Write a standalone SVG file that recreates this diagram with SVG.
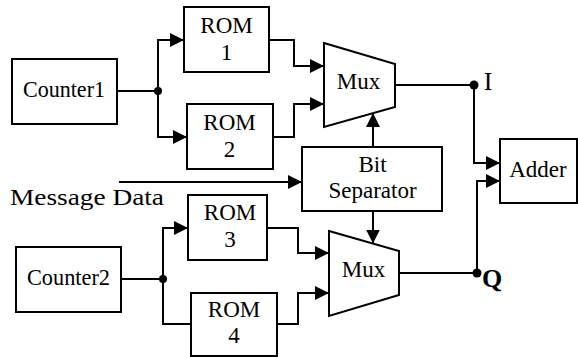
<svg xmlns="http://www.w3.org/2000/svg" width="578" height="357" viewBox="0 0 578 357">
<style>
.box{fill:#fff;stroke:#000;stroke-width:2}
.ln{fill:none;stroke:#000;stroke-width:2}
.t{font-family:"Liberation Serif","Times New Roman",serif;font-size:23px;fill:#000;text-anchor:middle}
</style>
<defs>
<marker id="ah" viewBox="0 0 14 14" refX="14" refY="7" markerWidth="14" markerHeight="14" markerUnits="userSpaceOnUse" orient="auto">
<path d="M0,0 L14,7 L0,14 z" fill="#000"/>
</marker>
</defs>
<rect width="578" height="357" fill="#fff"/>
<g id="connectors">
<path class="ln" d="M117,91 H158"/>
<path class="ln" d="M158,91 V40 H184" marker-end="url(#ah)"/>
<path class="ln" d="M158,91 V137 H187" marker-end="url(#ah)"/>
<path class="ln" d="M269,40 H294 V66 H324" marker-end="url(#ah)"/>
<path class="ln" d="M273,137 H294 V104 H324" marker-end="url(#ah)"/>
<path class="ln" d="M373,147 V113" marker-end="url(#ah)"/>
<path class="ln" d="M395,85 H474"/>
<path class="ln" d="M474,85 V163 H500" marker-end="url(#ah)"/>
<path class="ln" d="M119,182 H302" marker-end="url(#ah)"/>
<path class="ln" d="M121,279 H163"/>
<path class="ln" d="M163,279 V228 H188" marker-end="url(#ah)"/>
<path class="ln" d="M163,279 V324 H191"/>
<path class="ln" d="M267,228 H298 V253 H329" marker-end="url(#ah)"/>
<path class="ln" d="M277,324 H298 V293 H329" marker-end="url(#ah)"/>
<path class="ln" d="M373,211 V243.5" marker-end="url(#ah)"/>
<path class="ln" d="M399,273 H477"/>
<path class="ln" d="M477,273 V181 H500" marker-end="url(#ah)"/>
<circle cx="158" cy="91" r="4"/>
<circle cx="163" cy="279" r="4"/>
<circle cx="474" cy="85" r="4.5"/>
<circle cx="477" cy="273" r="4.5"/>
</g>
<g id="counter1"><rect class="box" x="12" y="59" width="105" height="65"/><text class="t" x="64" y="97" textLength="82" lengthAdjust="spacingAndGlyphs">Counter1</text></g>
<g id="rom1"><rect class="box" x="184" y="7" width="85" height="65"/><text class="t" x="226.5" y="33">ROM</text><text class="t" x="226.5" y="60">1</text></g>
<g id="rom2"><rect class="box" x="187" y="104" width="86" height="65"/><text class="t" x="229.5" y="130">ROM</text><text class="t" x="229.5" y="157">2</text></g>
<g id="mux1"><polygon class="box" points="324,43 395,64 395,107 324,127"/><text class="t" x="358.5" y="89">Mux</text></g>
<g id="bitsep"><rect class="box" x="302" y="147" width="140" height="64"/><text class="t" x="372.5" y="172">Bit</text><text class="t" x="372.5" y="198">Separator</text></g>
<g id="adder"><rect class="box" x="500" y="139" width="77" height="64"/><text class="t" x="538" y="177">Adder</text></g>
<g id="message"><text class="t" x="87" y="205" style="font-size:24px" textLength="154" lengthAdjust="spacingAndGlyphs">Message Data</text></g>
<g id="counter2"><rect class="box" x="16" y="247" width="105" height="65"/><text class="t" x="68.5" y="285" textLength="83" lengthAdjust="spacingAndGlyphs">Counter2</text></g>
<g id="rom3"><rect class="box" x="188" y="195" width="79" height="65"/><text class="t" x="230" y="220">ROM</text><text class="t" x="230" y="247">3</text></g>
<g id="rom4"><rect class="box" x="191" y="293" width="86" height="63"/><text class="t" x="234" y="317">ROM</text><text class="t" x="234" y="343">4</text></g>
<g id="mux2"><polygon class="box" points="329,231 399,251 399,295 329,316"/><text class="t" x="363.5" y="277">Mux</text></g>
<g id="labelI"><text class="t" x="488" y="90" style="font-size:26px">I</text></g>
<g id="labelQ"><text class="t" x="492" y="287" style="font-size:26px;font-weight:bold">Q</text></g>
</svg>
